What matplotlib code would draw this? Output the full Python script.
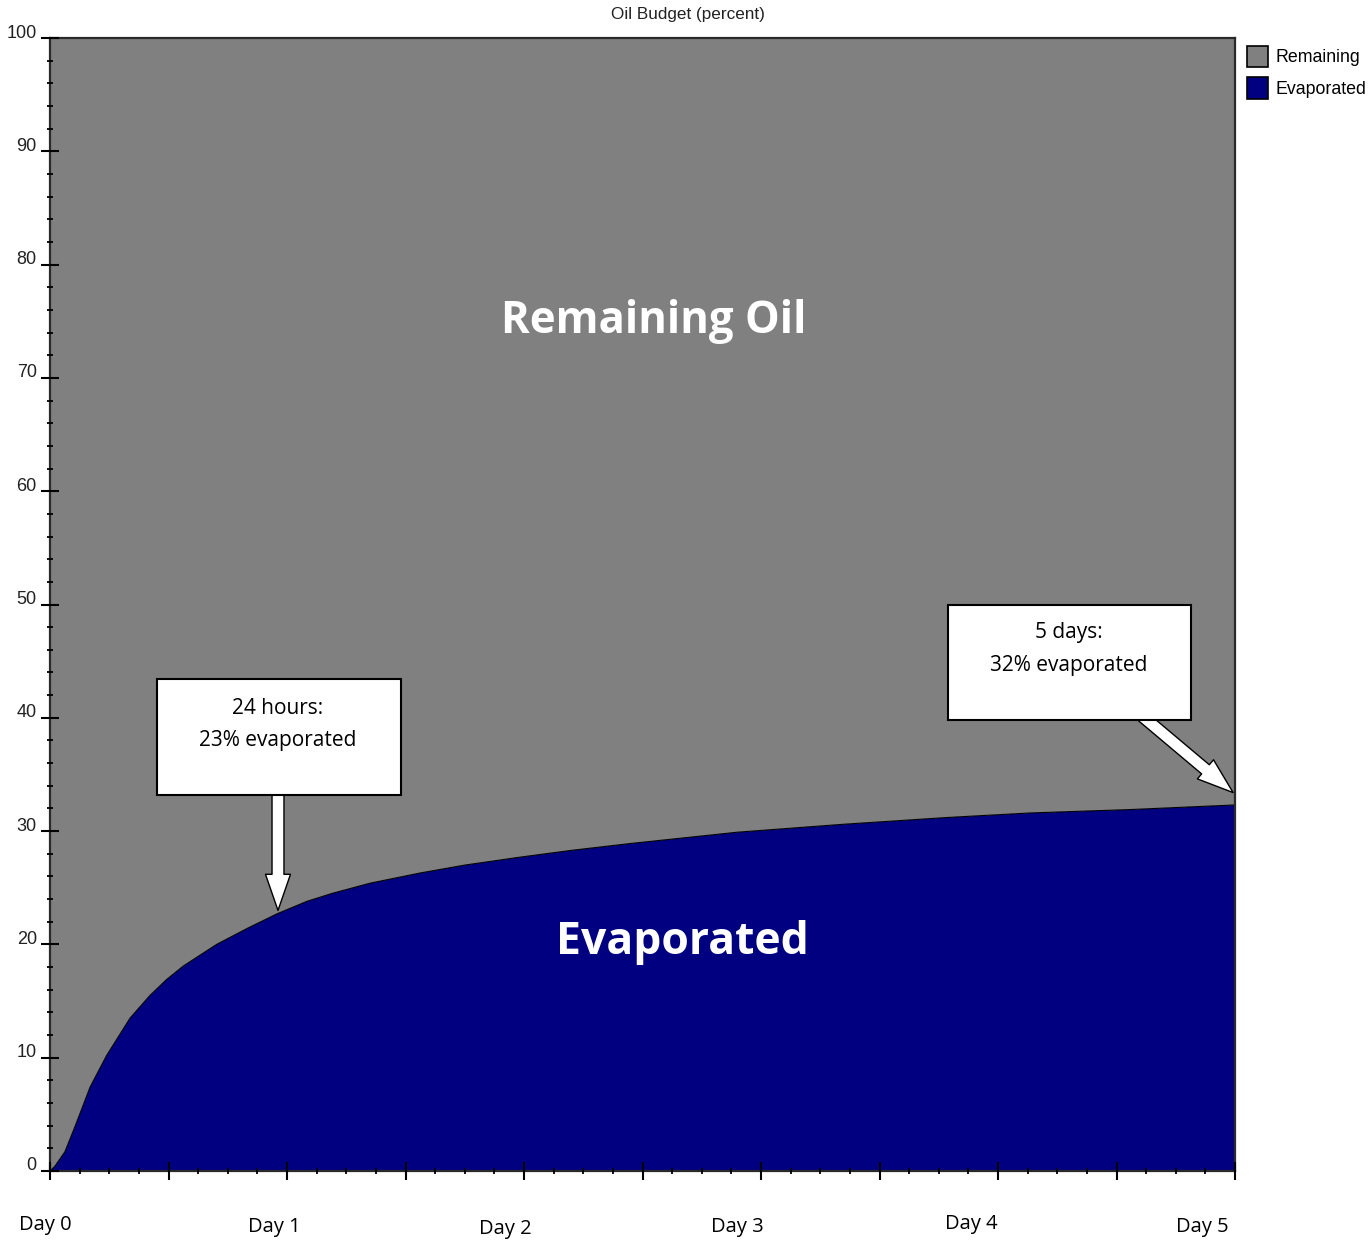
import matplotlib
matplotlib.use("Agg")
import matplotlib.pyplot as plt
import matplotlib.transforms as mtransforms
from matplotlib.patches import Rectangle, Patch
import numpy as np

# ---- data ----
days = [0, 0.02, 0.063, 0.105, 0.127, 0.169, 0.239, 0.338, 0.422, 0.492, 0.563,
        0.703, 0.831, 0.958, 1.084, 1.19, 1.35, 1.561, 1.75, 1.983, 2.2, 2.447,
        2.899, 3.346, 3.785, 4.135, 4.557, 4.992, 5.0]
evaporated = [0, 0.4, 1.7, 3.9, 5.1, 7.4, 10.2, 13.5, 15.5, 16.9, 18.1,
              20.0, 21.4, 22.7, 23.8, 24.5, 25.4, 26.3, 27.0, 27.7, 28.3, 28.9,
              29.9, 30.6, 31.2, 31.6, 31.9, 32.3, 32.3]
series_names = ["Remaining", "Evaporated"]
day_labels = ["Day 0", "Day 1", "Day 2", "Day 3", "Day 4", "Day 5"]
ytick_values = list(range(0, 101, 10))

days = np.array(days)
evaporated = np.array(evaporated)
remaining = 100 - evaporated

GRAY = "#808080"
NAVY = "#000080"

W, H = 1368, 1241
fig = plt.figure(figsize=(W / 100, H / 100), dpi=100)
ax = fig.add_axes([50 / W, 70 / H, 1185 / W, 1133 / H])
ax.set_xlim(0, 5)
ax.set_ylim(0, 100)

ax.stackplot(days, evaporated, remaining, colors=[NAVY, GRAY], zorder=1)
ax.plot(days, evaporated, color="black", lw=0.8, zorder=2)

for s in ax.spines.values():
    s.set_color("#2a2a2a")
    s.set_linewidth(1.6)
ax.set_axisbelow(False)

# y ticks
ax.set_yticks(ytick_values)
ax.set_yticklabels([str(v) for v in ytick_values], fontfamily="Liberation Sans",
                   fontsize=13, color="#222222")
ax.set_yticks(np.arange(0, 101, 2), minor=True)
ax.tick_params(axis="y", which="major", direction="inout", length=13, width=1.5,
               color="black", pad=3.0)
ax.tick_params(axis="y", which="minor", direction="inout", length=4.5, width=1.3,
               color="black")
off = mtransforms.ScaledTranslation(0, 7 / 100, fig.dpi_scale_trans)
for lab in ax.get_yticklabels():
    lab.set_transform(lab.get_transform() + off)

# x ticks
ax.set_xticks(np.arange(0, 5.01, 0.5))
ax.set_xticks(np.arange(0, 5.01, 0.125), minor=True)
ax.tick_params(axis="x", which="major", direction="inout", length=13, width=1.5,
               color="black", labelbottom=False)
ax.tick_params(axis="x", which="minor", direction="inout", length=4.5, width=1.3,
               color="black")

# day labels
day_x = [-0.02, 0.945, 1.92, 2.90, 3.886, 4.86]
day_y = [-0.0477, -0.0494, -0.0512, -0.0494, -0.0468, -0.0494]
btrans = mtransforms.blended_transform_factory(ax.transData, ax.transAxes)
for lab, x, y in zip(day_labels, day_x, day_y):
    ax.text(x, y, lab, transform=btrans, ha="center", va="center",
            fontfamily="Open Sans", fontsize=14.5, color="black", clip_on=False)

# title
fig.text(688 / W, 1 - 15 / H, "Oil Budget (percent)", ha="center", va="center",
         fontfamily="Liberation Sans", fontsize=12.3, color="#222222")

# big labels
ax.text(2.549, 75.0, "Remaining Oil", ha="center", va="center", color="white",
        fontfamily="Open Sans", fontweight="bold", fontsize=31.5, zorder=4)
ax.text(2.667, 20.2, "Evaporated", ha="center", va="center", color="white",
        fontfamily="Open Sans", fontweight="bold", fontsize=32, zorder=4)

# callout boxes
ax.add_patch(Rectangle((0.451, 33.2), 1.030, 10.2, fc="white", ec="black",
                       lw=1.5, zorder=6))
ax.text(0.962, 40.8, "24 hours:", ha="center", va="center", fontfamily="Open Sans",
        fontsize=15, zorder=7)
ax.text(0.962, 38.0, "23% evaporated", ha="center", va="center",
        fontfamily="Open Sans", fontsize=15, zorder=7)

ax.add_patch(Rectangle((3.789, 39.8), 1.025, 10.16, fc="white", ec="black",
                       lw=1.5, zorder=6))
ax.text(4.30, 47.5, "5 days:", ha="center", va="center", fontfamily="Open Sans",
        fontsize=15, zorder=7)
ax.text(4.30, 44.6, "32% evaporated", ha="center", va="center",
        fontfamily="Open Sans", fontsize=15, zorder=7)

arrow_style = "simple,head_length=26,head_width=18,tail_width=8.6"
ax.annotate("", xy=(0.962, 23.0), xytext=(0.962, 33.6),
            arrowprops=dict(arrowstyle=arrow_style, mutation_scale=1, fc="white",
                            ec="black", lw=1.0, shrinkA=0, shrinkB=0), zorder=5)
ax.annotate("", xy=(4.992, 33.4), xytext=(4.60, 40.3),
            arrowprops=dict(arrowstyle=arrow_style, mutation_scale=1, fc="white",
                            ec="black", lw=1.0, shrinkA=0, shrinkB=0), zorder=5)

# legend
handles = [Patch(fc=GRAY, ec="black", lw=1.2), Patch(fc=NAVY, ec="black", lw=1.2)]
fig.legend(handles, series_names, loc="upper left",
           bbox_to_anchor=(1247 / W, 1 - 46 / H), bbox_transform=fig.transFigure,
           frameon=False, borderpad=0, borderaxespad=0, handlelength=1.2,
           handleheight=1.45, handletextpad=0.38, labelspacing=0.58,
           prop=dict(family="Liberation Sans", size=12.8))

fig.savefig("out.png", dpi=100, facecolor="white")
